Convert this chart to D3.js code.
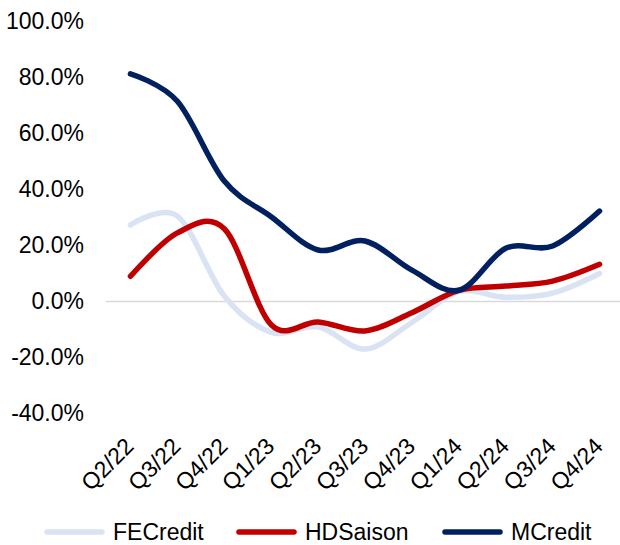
<!DOCTYPE html>
<html><head><meta charset="utf-8">
<script src="https://cdn.jsdelivr.net/npm/d3@7"></script>
<style>body{margin:0;background:#fff;} svg{display:block;} text{font-family:"Liberation Sans",Arial,sans-serif;fill:#000;}</style>
</head><body>
<script>
const categories = ["Q2/22","Q3/22","Q4/22","Q1/23","Q2/23","Q3/23","Q4/23","Q1/24","Q2/24","Q3/24","Q4/24"];
const feCredit = [27.3, 30.5, 2, -11, -9, -17, -7.5, 3.5, 1.5, 3, 10];
const hdSaison = [9, 24.5, 26, -8.3, -7.3, -10.5, -4, 4, 5.5, 7.3, 13.3];
const mCredit = [81.3, 71.5, 43, 30.3, 18.4, 21.6, 11.2, 4, 19, 19.8, 32.3];
const yTicks = [100, 80, 60, 40, 20, 0, -20, -40];
const seriesNames = ["FECredit","HDSaison","MCredit"];
const colors = ["#DAE3F3","#C00000","#002060"];

const W = 620, H = 545;
const svg = d3.select("body").append("svg").attr("width", W).attr("height", H);
const x = d3.scaleBand().domain(categories).range([107, 623]);
const y = d3.scaleLinear().domain([-40, 100]).range([413.5, 21.5]);

// zero line
svg.append("line").attr("x1", 106).attr("x2", W).attr("y1", y(0)).attr("y2", y(0))
  .attr("stroke", "#D9D9D9").attr("stroke-width", 1.5);

// y axis labels
const yAxis = d3.axisLeft(y).tickValues(yTicks).tickSize(0).tickPadding(0)
  .tickFormat(d => d.toFixed(1) + "%");
const gy = svg.append("g").attr("transform", "translate(84,0)").call(yAxis);
gy.select(".domain").remove();
gy.selectAll("text").attr("font-size", 23).attr("font-family", '"Liberation Sans",Arial,sans-serif').attr("fill", "#000");

// x axis labels
const xAxis = d3.axisBottom(x).tickSize(0).tickPadding(0);
const gx = svg.append("g").attr("transform", "translate(0,430)").call(xAxis);
gx.select(".domain").remove();
gx.selectAll("text").attr("font-size", 23).attr("font-family", '"Liberation Sans",Arial,sans-serif').attr("fill", "#000")
  .attr("text-anchor", "end").attr("dy", "0.35em").attr("dx", "0")
  .attr("transform", "translate(-1,12) rotate(-45)");

// lines
const line = d3.line().x((d, i) => x(categories[i]) + x.bandwidth() / 2).y(d => y(d))
  .curve(d3.curveCardinal.tension(0));
const allSeries = [feCredit, hdSaison, mCredit];
allSeries.forEach((s, i) => {
  svg.append("path").datum(s).attr("d", line).attr("fill", "none")
    .attr("stroke", colors[i]).attr("stroke-width", 5.5)
    .attr("stroke-linecap", "round").attr("stroke-linejoin", "round");
});

// legend
const legX = [47, 239, 445];
seriesNames.forEach((n, i) => {
  const g = svg.append("g").attr("transform", `translate(${legX[i]},532)`);
  g.append("line").attr("x1", 0).attr("x2", 55).attr("stroke", colors[i])
    .attr("stroke-width", 5.5).attr("stroke-linecap", "round");
  g.append("text").attr("x", 66).attr("dy", "0.35em").attr("font-size", 23).text(n);
});
</script>
</body></html>
